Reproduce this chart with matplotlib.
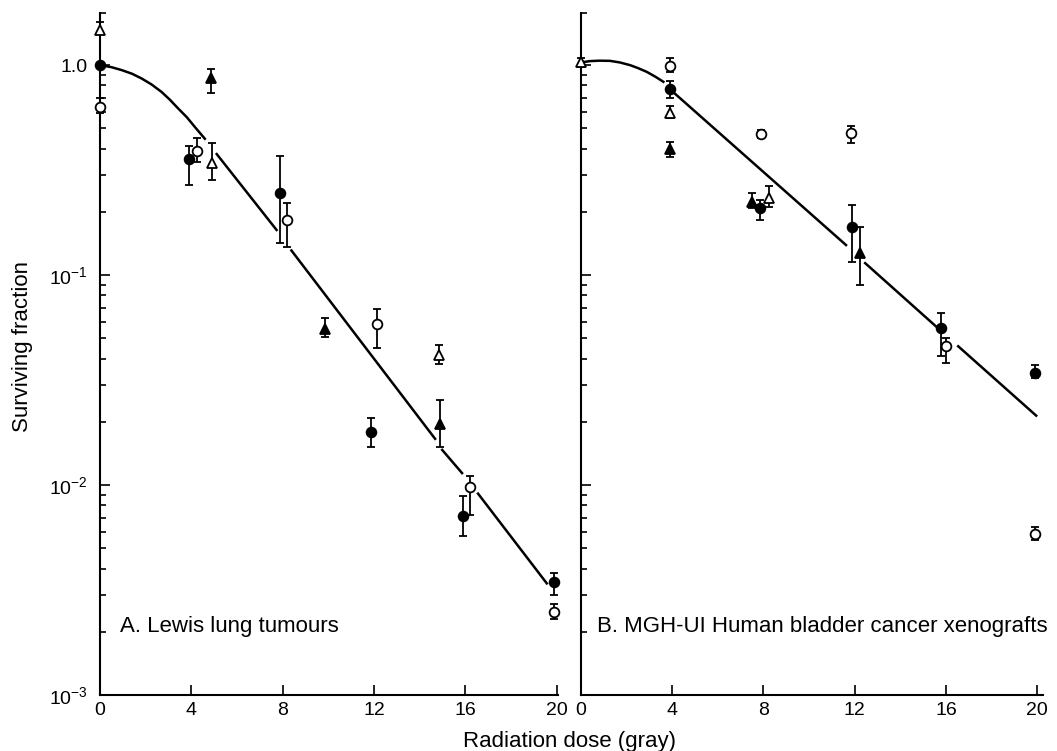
import numpy as np
import matplotlib.pyplot as plt

plt.rcParams['font.family'] = ['Liberation Sans', 'DejaVu Sans']
plt.rcParams['mathtext.default'] = 'regular'

# ---- panel A: Lewis lung tumours (dose in gray, surviving fraction, error bar ends)
a_fc_x = [0, 3.9, 7.9, 11.88, 15.9, 19.87]
a_fc_y = [1.0, 0.356, 0.246, 0.0178, 0.0071, 0.00345]
a_fc_hi = [1.0, 0.41, 0.37, 0.0208, 0.0089, 0.0038]
a_fc_lo = [1.0, 0.27, 0.142, 0.0152, 0.0057, 0.0030]

a_oc_x = [0, 4.24, 8.17, 12.14, 16.2, 19.87]
a_oc_y = [0.63, 0.39, 0.183, 0.0586, 0.0098, 0.00249]
a_oc_hi = [0.70, 0.45, 0.22, 0.069, 0.011, 0.0027]
a_oc_lo = [0.59, 0.345, 0.136, 0.045, 0.0072, 0.0023]

a_ft_x = [4.85, 9.87, 14.9]
a_ft_y = [0.87, 0.0553, 0.0195]
a_ft_hi = [0.96, 0.0624, 0.0253]
a_ft_lo = [0.74, 0.0506, 0.0152]

a_ot_x = [0, 4.9, 14.85]
a_ot_y = [1.47, 0.34, 0.0418]
a_ot_hi = [1.60, 0.425, 0.0465]
a_ot_lo = [1.42, 0.283, 0.0377]

# fitted curve, drawn in pieces (gaps where it passes the points)
a_fit = [
    ([0.0, 0.5, 0.95, 1.4, 1.82, 2.25, 2.69, 3.05, 3.42, 3.8, 4.15, 4.59],
     [1.0, 0.978, 0.947, 0.91, 0.864, 0.81, 0.746, 0.686, 0.622, 0.565, 0.508, 0.446]),
    ([5.11, 7.73], [0.377, 0.164]),
    ([8.38, 14.67], [0.131, 0.0166]),
    ([14.98, 15.85], [0.0147, 0.0114]),
    ([16.55, 19.56], [0.0091, 0.0034]),
]

# ---- panel B: MGH-UI human bladder cancer xenografts
b_fc_x = [3.9, 7.85, 11.9, 15.8, 19.9]
b_fc_y = [0.77, 0.208, 0.169, 0.0558, 0.0340]
b_fc_hi = [0.84, 0.228, 0.215, 0.066, 0.0373]
b_fc_lo = [0.70, 0.183, 0.115, 0.041, 0.0325]

b_oc_x = [3.9, 7.9, 11.85, 16.0, 19.9]
b_oc_y = [0.99, 0.47, 0.475, 0.0458, 0.00585]
b_oc_hi = [1.08, 0.49, 0.513, 0.050, 0.0063]
b_oc_lo = [0.93, 0.45, 0.425, 0.038, 0.0055]

b_ft_x = [3.9, 7.5, 12.24]
b_ft_y = [0.40, 0.223, 0.127]
b_ft_hi = [0.43, 0.245, 0.169]
b_ft_lo = [0.365, 0.208, 0.0897]

b_ot_x = [0, 3.9, 8.25]
b_ot_y = [1.03, 0.59, 0.233]
b_ot_hi = [1.08, 0.64, 0.266]
b_ot_lo = [0.98, 0.56, 0.211]

b_fit = [
    ([0.0, 0.39, 0.8, 1.27, 1.7, 2.15, 2.5, 2.88, 3.25, 3.61],
     [1.03, 1.045, 1.05, 1.048, 1.03, 1.0, 0.968, 0.929, 0.882, 0.833]),
    ([4.04, 11.62], [0.744, 0.139]),
    ([12.46, 15.61], [0.114, 0.0564]),
    ([16.54, 19.96], [0.0458, 0.0214]),
]

y_top = 1.77


def points(ax, x, y, lo, hi, marker, filled):
    y = np.array(y)
    yerr = [y - np.array(lo), np.array(hi) - y]
    ax.errorbar(x, y, yerr=yerr, fmt=marker, ms=7,
                mfc='black' if filled else 'white', mec='black', mew=1.3,
                ecolor='black', elinewidth=1.3, capsize=3, capthick=1.3,
                clip_on=False, zorder=3)


def setup(ax, xmax, labels):
    ax.set_yscale('log')
    ax.set_ylim(1e-3, y_top)
    ax.set_xlim(0, xmax)
    for s in ['top', 'right']:
        ax.spines[s].set_visible(False)
    for s in ['left', 'bottom']:
        ax.spines[s].set_linewidth(1.5)
    ax.set_xticks([0, 4, 8, 12, 16, 20])
    ax.set_yticks([1e-3, 1e-2, 1e-1, 1.0])
    minors = [k * 10.0**e for e in [-3, -2, -1] for k in range(2, 10)] + [y_top]
    ax.set_yticks(minors, minor=True)
    ax.yaxis.set_minor_formatter(plt.NullFormatter())
    if labels:
        ax.set_yticklabels(['10$^{-3}$', '10$^{-2}$', '10$^{-1}$', '1.0'])
    else:
        ax.tick_params(labelleft=False)
    ax.tick_params(which='both', direction='in', width=1.2, labelsize=14)
    ax.tick_params(axis='x', pad=5)
    ax.tick_params(axis='y', pad=9)
    ax.tick_params(which='major', length=7)
    ax.tick_params(which='minor', length=4)


fig = plt.figure(figsize=(10.57, 7.51), dpi=100)
ax1 = fig.add_axes([0.0946, 0.0746, 0.4333, 0.908])
ax2 = fig.add_axes([0.5497, 0.0746, 0.4371, 0.908])

setup(ax1, 20.05, True)
setup(ax2, 20.26, False)

for xs, ys in a_fit:
    ax1.plot(xs, ys, color='black', lw=1.8, zorder=2)
points(ax1, a_fc_x, a_fc_y, a_fc_lo, a_fc_hi, 'o', True)
points(ax1, a_oc_x, a_oc_y, a_oc_lo, a_oc_hi, 'o', False)
points(ax1, a_ft_x, a_ft_y, a_ft_lo, a_ft_hi, '^', True)
points(ax1, a_ot_x, a_ot_y, a_ot_lo, a_ot_hi, '^', False)
ax1.text(0.044, 0.101, 'A. Lewis lung tumours', transform=ax1.transAxes,
         fontsize=16, va='center')

for xs, ys in b_fit:
    ax2.plot(xs, ys, color='black', lw=1.8, zorder=2)
points(ax2, b_fc_x, b_fc_y, b_fc_lo, b_fc_hi, 'o', True)
points(ax2, b_oc_x, b_oc_y, b_oc_lo, b_oc_hi, 'o', False)
points(ax2, b_ft_x, b_ft_y, b_ft_lo, b_ft_hi, '^', True)
points(ax2, b_ot_x, b_ot_y, b_ot_lo, b_ot_hi, '^', False)
ax2.text(0.035, 0.1, 'B. MGH-UI Human bladder cancer xenografts', transform=ax2.transAxes,
         fontsize=16, va='center')

fig.text(0.021, 0.539, 'Surviving fraction', rotation=90, fontsize=16,
         ha='center', va='center')
fig.text(0.539, 0.012, 'Radiation dose (gray)', fontsize=16, ha='center', va='center')

plt.savefig('out.png', dpi=100)
